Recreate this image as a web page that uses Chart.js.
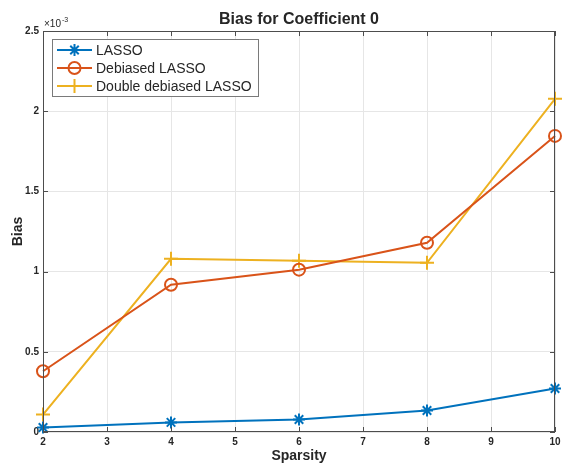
<!DOCTYPE html>
<html>
<head>
<meta charset="utf-8">
<script src="https://cdn.jsdelivr.net/npm/chart.js@4"></script>
<style>
  html, body { margin: 0; padding: 0; background: #fff; }
  #wrap { width: 566px; height: 466px; }
</style>
</head>
<body>
<div id="wrap"><canvas id="biasChart" width="566" height="466"></canvas></div>
<script>
// Sparsity levels (x axis)
const sparsity = [2, 4, 6, 8, 10];

// Bias values (units of 1e-3)
const lassoBias = [0.028, 0.060, 0.078, 0.134, 0.271];
const debiasedBias = [0.379, 0.918, 1.012, 1.180, 1.846];
const doubleBias = [0.109, 1.080, 1.068, 1.055, 2.077];

// Tick labels
const xTicks = [2, 3, 4, 5, 6, 7, 8, 9, 10];
const yTickLabels = ['0', '0.5', '1', '1.5', '2', '2.5'];

const seriesNames = ['LASSO', 'Debiased LASSO', 'Double debiased LASSO'];
const seriesColors = ['#0072BD', '#D95319', '#EDB120'];
const seriesMarkers = ['star', 'circle', 'cross'];

const axisColor = '#4d4d4d';
const textColor = '#262626';
const fontFamily = '"Liberation Sans", Arial, Helvetica, sans-serif';

function toPoints(values) {
    return sparsity.map((x, i) => ({ x: x, y: values[i] * 1e-3 }));
}

/**
 * Draw MATLAB-like box, inward ticks, exponent label, title and legend
 */
const matlabDecor = {
    id: 'matlabDecor',
    afterDraw(chart) {
        const ctx = chart.ctx;
        const area = chart.chartArea;
        const xs = chart.scales.x;
        const ys = chart.scales.y;

        ctx.save();
        // box around the axes
        ctx.strokeStyle = axisColor;
        ctx.lineWidth = 1;
        ctx.strokeRect(area.left + 0.5, area.top + 0.5, area.right - area.left - 1, area.bottom - area.top - 1);

        // inward ticks
        ctx.beginPath();
        xTicks.forEach(v => {
            const px = Math.round(xs.getPixelForValue(v)) + 0.5;
            ctx.moveTo(px, area.bottom);
            ctx.lineTo(px, area.bottom - 5);
            ctx.moveTo(px, area.top);
            ctx.lineTo(px, area.top + 5);
        });
        yTickLabels.forEach((lbl, i) => {
            const py = Math.round(ys.getPixelForValue(i * 0.5e-3)) + 0.5;
            ctx.moveTo(area.left, py);
            ctx.lineTo(area.left + 5, py);
            ctx.moveTo(area.right, py);
            ctx.lineTo(area.right - 5, py);
        });
        ctx.stroke();

        // exponent label
        ctx.fillStyle = textColor;
        ctx.textBaseline = 'alphabetic';
        ctx.textAlign = 'left';
        ctx.font = '10px ' + fontFamily;
        ctx.fillText('\u00d710', area.left + 1, area.top - 4);
        ctx.font = '7px ' + fontFamily;
        ctx.fillText('-3', area.left + 19, area.top - 9);

        // title
        ctx.font = 'bold 16px ' + fontFamily;
        ctx.textAlign = 'center';
        ctx.fillText('Bias for Coefficient 0', (area.left + area.right) / 2, 24);

        // legend
        const lx = 52.5, ly = 39.5, lw = 206, lh = 57;
        ctx.fillStyle = '#fff';
        ctx.fillRect(lx, ly, lw, lh);
        ctx.strokeStyle = '#7a7a7a';
        ctx.strokeRect(lx, ly, lw, lh);
        ctx.font = '14px ' + fontFamily;
        ctx.textAlign = 'left';
        ctx.textBaseline = 'middle';
        seriesNames.forEach((name, i) => {
            const y = 50 + i * 18;
            ctx.strokeStyle = seriesColors[i];
            ctx.fillStyle = 'rgba(0,0,0,0)';
            ctx.lineWidth = 2;
            ctx.beginPath();
            ctx.moveTo(57, y);
            ctx.lineTo(92, y);
            ctx.stroke();
            Chart.helpers.drawPoint(ctx, {
                pointStyle: seriesMarkers[i],
                radius: i === 2 ? 7 : 6,
                rotation: 0,
                borderWidth: 2
            }, 74.5, y);
            ctx.fillStyle = textColor;
            ctx.fillText(name, 96, y + 1);
        });
        ctx.restore();
    }
};

function initChart() {
    const ctx = document.getElementById('biasChart').getContext('2d');

    const datasets = seriesNames.map((name, i) => ({
        label: name,
        data: toPoints([lassoBias, debiasedBias, doubleBias][i]),
        borderColor: seriesColors[i],
        backgroundColor: 'rgba(0,0,0,0)',
        borderWidth: 2,
        pointStyle: seriesMarkers[i],
        pointRadius: i === 2 ? 7 : 6,
        pointBorderWidth: 2,
        pointBackgroundColor: 'rgba(0,0,0,0)',
        pointBorderColor: seriesColors[i],
        tension: 0,
        clip: false
    }));

    window.biasChart = new Chart(ctx, {
        type: 'line',
        data: { datasets: datasets },
        options: {
            responsive: false,
            animation: false,
            layout: { padding: { left: 0, right: 11, top: 31, bottom: 0 } },
            plugins: {
                legend: { display: false },
                title: { display: false },
                tooltip: { enabled: false }
            },
            scales: {
                x: {
                    type: 'linear',
                    min: 2,
                    max: 10,
                    afterBuildTicks(scale) {
                        scale.ticks = xTicks.map(v => ({ value: v }));
                    },
                    afterFit(scale) { scale.height = 34; },
                    grid: { color: '#e6e6e6', drawTicks: false },
                    border: { display: false },
                    ticks: {
                        color: textColor,
                        padding: 4,
                        maxRotation: 0,
                        font: { family: fontFamily, size: 10, weight: 'bold' }
                    },
                    title: {
                        display: true,
                        text: 'Sparsity',
                        color: textColor,
                        padding: { top: 0, bottom: 1 },
                        font: { family: fontFamily, size: 14, weight: 'bold' }
                    }
                },
                y: {
                    min: 0,
                    max: 0.0025,
                    afterBuildTicks(scale) {
                        scale.ticks = yTickLabels.map((l, i) => ({ value: i * 0.5e-3 }));
                    },
                    afterFit(scale) { scale.width = 43; },
                    grid: { color: '#e6e6e6', drawTicks: false },
                    border: { display: false },
                    ticks: {
                        color: textColor,
                        padding: 4,
                        font: { family: fontFamily, size: 10, weight: 'bold' },
                        callback: function(value) {
                            return yTickLabels[Math.round(value / 0.5e-3)];
                        }
                    },
                    title: {
                        display: true,
                        text: 'Bias',
                        color: textColor,
                        padding: { top: 10, bottom: 0 },
                        font: { family: fontFamily, size: 14, weight: 'bold' }
                    }
                }
            }
        },
        plugins: [matlabDecor]
    });
}

document.addEventListener('DOMContentLoaded', initChart);
</script>
</body>
</html>
